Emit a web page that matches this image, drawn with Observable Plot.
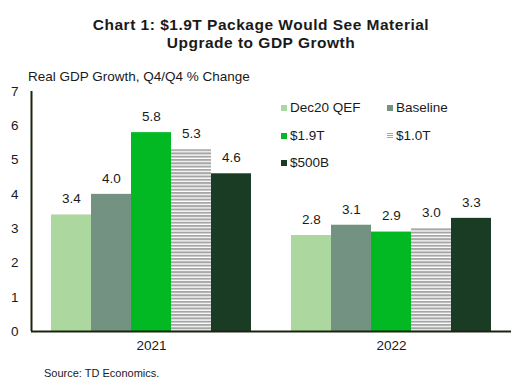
<!DOCTYPE html>
<html><head><meta charset="utf-8">
<script src="https://cdn.jsdelivr.net/npm/d3@7"></script>
<script src="https://cdn.jsdelivr.net/npm/@observablehq/plot@0.6"></script>
<style>
body{margin:0;background:#fff;font-family:"Liberation Sans",Arial,sans-serif;color:#1a1a1a}
#wrap{position:relative;width:516px;height:386px;overflow:hidden;background:#fff}
#title{height:44px;padding:16px 0 0 6px;font-size:15.5px;letter-spacing:0.5px;font-weight:bold;line-height:18px;text-align:center}
#chart{height:300px}
#subtitle{position:absolute;left:28px;top:69px;font-size:13.5px;line-height:16px}
#source{position:absolute;left:44px;top:367px;font-size:11px;line-height:12px}
.lg{position:absolute;font-size:13.5px;line-height:16px;white-space:nowrap;display:flex;align-items:center}
.sw{width:6px;height:6px;margin-right:3px;display:inline-block}
</style></head><body>
<div id="wrap">
 <div id="title">Chart 1: $1.9T Package Would See Material<br>Upgrade to GDP Growth</div>
 <div id="chart"></div>
 <div id="subtitle">Real GDP Growth, Q4/Q4 % Change</div>
 <div id="legend"></div>
 <div id="source">Source: TD Economics.</div>
</div>
<script>
const years = ["2021", "2022"];
const series = ["Dec20 QEF", "Baseline", "$1.9T", "$1.0T", "$500B"];
const values2021 = [3.4, 4.0, 5.8, 5.3, 4.6];
const values2022 = [2.8, 3.1, 2.9, 3.0, 3.3];
const colors = ["#acd8a0", "#739282", "#02b924", "url(#stripes)", "#1a3c24"];
const yTicks = [0, 1, 2, 3, 4, 5, 6, 7];

const data = [];
series.forEach((s, i) => data.push({year: years[0], series: s, value: values2021[i]}));
series.forEach((s, i) => data.push({year: years[1], series: s, value: values2022[i]}));

const axisColor = "#19240f";

const chart = Plot.plot({
  width: 516,
  height: 300,
  marginLeft: 30,
  marginRight: 5,
  marginTop: 31,
  marginBottom: 29,
  style: {fontFamily: "'Liberation Sans', Arial, sans-serif", fontSize: "13.5px", color: "#1a1a1a", background: "#fff"},
  fx: {domain: years, padding: 0, label: null, tickSize: 0, tickPadding: 9, axis: "bottom"},
  x: {domain: series, paddingInner: 0, paddingOuter: 0.5, axis: null},
  y: {domain: [0, 7], ticks: yTicks, tickSize: 0, tickPadding: 13, label: null, tickFormat: d3.format("d")},
  color: {domain: series, range: colors},
  marks: [
    Plot.barY(data, {fx: "year", x: "series", y: "value", fill: "series", inset: 0}),
    Plot.text(data, {fx: "year", x: "series", y: "value", text: d => d3.format(".1f")(d.value), dy: -16, fill: "#1a1a1a", fontSize: 13.5}),
    Plot.ruleY([0], {stroke: axisColor, strokeWidth: 2}),
    Plot.ruleX([{year: years[0]}], {fx: "year", x: () => series[0], dx: -40, stroke: axisColor, strokeWidth: 2})
  ]
});

const svg = d3.select(chart);
const defs = svg.insert("defs", ":first-child");
const pat = defs.append("pattern").attr("id", "stripes").attr("patternUnits", "userSpaceOnUse")
  .attr("width", 4).attr("height", 3.3);
pat.append("rect").attr("width", 4).attr("height", 3.3).attr("fill", "#ffffff");
pat.append("rect").attr("width", 4).attr("height", 2).attr("fill", "#a6a6a6");

document.getElementById("chart").appendChild(chart);

const color = chart.scale("color");
const legendPos = [[281, 108], [387, 108], [281, 136], [387, 136], [281, 163]];
const legend = document.getElementById("legend");
series.forEach((s, i) => {
  const item = document.createElement("div");
  item.className = "lg";
  item.style.left = legendPos[i][0] + "px";
  item.style.top = (legendPos[i][1] - 8) + "px";
  const sw = document.createElement("span");
  sw.className = "sw";
  const c = color.apply(s);
  if (c.startsWith("url")) {
    sw.style.background = "repeating-linear-gradient(to bottom, #a6a6a6 0 1px, #fff 1px 2px)";
  } else {
    sw.style.background = c;
  }
  item.appendChild(sw);
  item.appendChild(document.createTextNode(s));
  legend.appendChild(item);
});
</script>
</body></html>
